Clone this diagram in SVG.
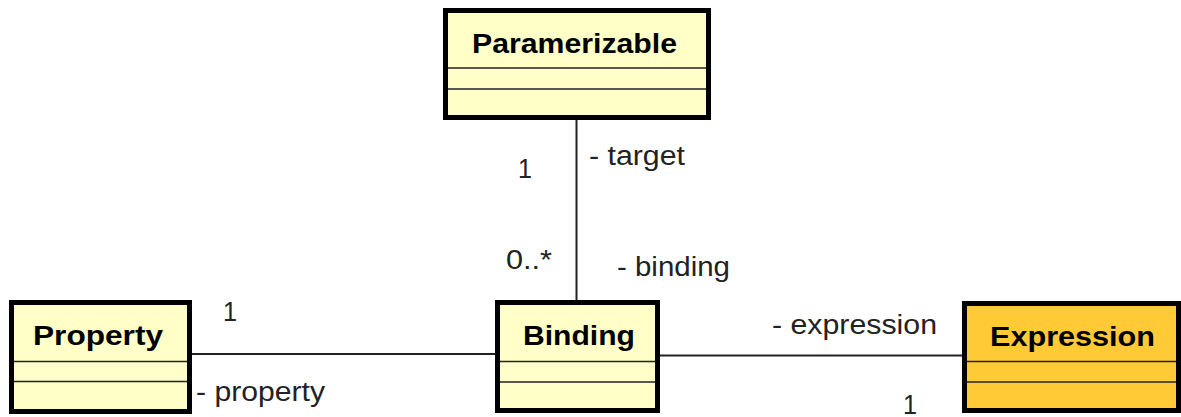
<svg xmlns="http://www.w3.org/2000/svg" width="1181" height="417" viewBox="0 0 1181 417">
<style>
.box{fill:#FFFFC8;stroke:#000;stroke-width:5}
.box.hl{fill:#FFCA36}
.div{stroke:#222;stroke-width:1.6}
.title{font-family:"Liberation Sans",Arial,sans-serif;font-weight:bold;font-size:27px;fill:#000}
.lbl{font-family:"Liberation Sans",Arial,sans-serif;font-size:27px;fill:#222}
.conn{stroke:#222;stroke-width:2;fill:none}
</style>
<rect width="1181" height="417" fill="#fff"/>
<g id="connectors">
<line class="conn" x1="576.5" y1="120" x2="576.5" y2="300"/>
<line class="conn" x1="192" y1="354" x2="495" y2="354"/>
<line class="conn" x1="660" y1="355.5" x2="962" y2="355.5"/>
<text class="lbl" x="518" y="178" textLength="14" lengthAdjust="spacingAndGlyphs">1</text>
<text class="lbl" x="589" y="165" textLength="96" lengthAdjust="spacingAndGlyphs">- target</text>
<text class="lbl" x="506" y="269" textLength="46" lengthAdjust="spacingAndGlyphs">0..*</text>
<text class="lbl" x="617" y="276" textLength="113" lengthAdjust="spacingAndGlyphs">- binding</text>
<text class="lbl" x="223" y="321" textLength="14" lengthAdjust="spacingAndGlyphs">1</text>
<text class="lbl" x="196" y="401" textLength="129" lengthAdjust="spacingAndGlyphs">- property</text>
<text class="lbl" x="772" y="334" textLength="165" lengthAdjust="spacingAndGlyphs">- expression</text>
<text class="lbl" x="903" y="414" textLength="14" lengthAdjust="spacingAndGlyphs">1</text>
</g>
<g id="Paramerizable">
<rect class="box" x="445.5" y="10.5" width="263" height="107"/>
<line class="div" x1="448" y1="68" x2="706" y2="68"/>
<line class="div" x1="448" y1="89" x2="706" y2="89"/>
<text class="title" x="472" y="53" textLength="205" lengthAdjust="spacingAndGlyphs">Paramerizable</text>
</g>
<g id="Property">
<rect class="box" x="11.5" y="302.5" width="178" height="109"/>
<line class="div" x1="14" y1="361.5" x2="187" y2="361.5"/>
<line class="div" x1="14" y1="381.5" x2="187" y2="381.5"/>
<text class="title" x="33" y="345" textLength="130" lengthAdjust="spacingAndGlyphs">Property</text>
</g>
<g id="Binding">
<rect class="box" x="497.5" y="302.5" width="160" height="108"/>
<line class="div" x1="500" y1="361.5" x2="655" y2="361.5"/>
<line class="div" x1="500" y1="382" x2="655" y2="382"/>
<text class="title" x="523" y="345" textLength="112" lengthAdjust="spacingAndGlyphs">Binding</text>
</g>
<g id="Expression">
<rect class="box hl" x="964.5" y="303.5" width="214" height="107"/>
<line class="div" x1="967" y1="361.5" x2="1176" y2="361.5"/>
<line class="div" x1="967" y1="382" x2="1176" y2="382"/>
<text class="title" x="990" y="346" textLength="165" lengthAdjust="spacingAndGlyphs">Expression</text>
</g>
</svg>
